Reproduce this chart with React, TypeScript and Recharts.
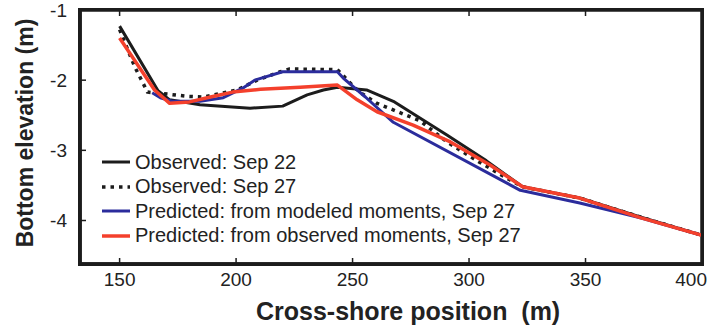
import React from "react";
import { LineChart, Line, XAxis, YAxis, Legend, CartesianGrid } from "recharts";

type Pt = [number, number];

// axis ticks
const xTicks = [150, 200, 250, 300, 350, 400];
const yTicks = [-4, -3, -2, -1];
const xDomain: [number, number] = [133, 400];
const yDomain: [number, number] = [-4.62, -1];

// profiles: [cross-shore position (m), bottom elevation (m)]
const observedSep22: Pt[] = [
  [150, -1.23], [166.5, -2.15], [171.5, -2.28], [184.5, -2.35], [206, -2.4],
  [220, -2.37], [230.5, -2.21], [237.5, -2.14], [243.5, -2.1], [256, -2.14],
  [268, -2.31], [290.5, -2.78], [307.5, -3.15], [323, -3.52], [347.5, -3.68],
  [373.5, -3.95], [400, -4.21],
];

const observedSep27: Pt[] = [
  [150, -1.28], [156.5, -1.81], [162, -2.17], [171, -2.2], [179, -2.23],
  [186, -2.24], [200.5, -2.14], [209, -2.0], [219, -1.88], [223, -1.84],
  [243.5, -1.85], [249, -2.04], [253, -2.17], [260.5, -2.33], [279, -2.58],
  [290.5, -2.88], [304.5, -3.17], [317.5, -3.42], [323, -3.52], [347.5, -3.68],
  [373.5, -3.95], [400, -4.21],
];

const predictedModeled: Pt[] = [
  [164, -2.18], [167.5, -2.25], [172.5, -2.3], [184.5, -2.3], [194.5, -2.25],
  [203, -2.11], [208, -2.0], [220, -1.88], [243.5, -1.88], [246, -1.97],
  [255.5, -2.24], [267.5, -2.6], [322, -3.57], [347.5, -3.75], [373.5, -3.96],
  [400, -4.21],
];

const predictedObserved: Pt[] = [
  [150, -1.4], [165, -2.14], [171.5, -2.33], [180, -2.31], [189, -2.24],
  [198.5, -2.17], [210.5, -2.13], [227.5, -2.1], [243.5, -2.07], [252, -2.28],
  [260.5, -2.45], [276, -2.64], [292, -2.88], [309, -3.21], [323, -3.52],
  [347.5, -3.68], [373.5, -3.96], [400, -4.21],
];

const FONT = '"Liberation Sans", Arial, Helvetica, sans-serif';
const INK = "#1c1c1c";

const SERIES = [
  { key: "obs22", name: "Observed: Sep 22", points: observedSep22, color: INK, width: 3, dash: undefined },
  { key: "obs27", name: "Observed: Sep 27", points: observedSep27, color: INK, width: 3.5, dash: "3.5 5" },
  { key: "predMod", name: "Predicted: from modeled moments, Sep 27", points: predictedModeled, color: "#2b2c9c", width: 3, dash: undefined },
  { key: "predObs", name: "Predicted: from observed moments, Sep 27", points: predictedObserved, color: "#f4402c", width: 3.5, dash: undefined },
];

const toRows = (pts: Pt[]) => pts.map(([x, y]) => ({ x, y }));

// layout of the plot box
const W = 709;
const H = 326;
const PLOT = { left: 80, top: 10, right: 702, bottom: 264 };
const FRAME_W = 3.5;

const frame = { stroke: INK, strokeWidth: FRAME_W, strokeLinecap: "square" as const };

// ticks point into the plot; the top edge gets the same ticks
const BottomTick = (props: any) => {
  const { x, y, payload } = props;
  const last = payload.value === xTicks[xTicks.length - 1];
  const top = y - (PLOT.bottom - PLOT.top);
  return (
    <g>
      <line x1={x} y1={y} x2={x} y2={y - 6} stroke={INK} strokeWidth={1.5} />
      {!last && <line x1={x} y1={top} x2={x} y2={top + 6} stroke={INK} strokeWidth={1.5} />}
      <text
        x={last ? x + 5 : x}
        y={y + 22}
        textAnchor={last ? "end" : "middle"}
        fontSize={19}
        fontFamily={FONT}
        fill="#222"
      >
        {payload.value}
      </text>
    </g>
  );
};

const LeftTick = (props: any) => {
  const { x, y, payload } = props;
  return (
    <g>
      <line x1={x} y1={y} x2={x + 6} y2={y} stroke={INK} strokeWidth={1.5} />
      <text x={x - 13} y={y} dy="0.36em" textAnchor="end" fontSize={19} fontFamily={FONT} fill="#222">
        {payload.value}
      </text>
    </g>
  );
};

const XTitle = (props: any) => {
  const { viewBox } = props;
  return (
    <text
      x={viewBox.x + 176}
      y={320}
      fontSize={25}
      fontWeight="bold"
      fontFamily={FONT}
      fill="#222"
      style={{ whiteSpace: "pre" }}
    >
      {"Cross-shore position  (m)"}
    </text>
  );
};

const YTitle = () => (
  <text
    x={33}
    y={133}
    transform="rotate(-90, 33, 133)"
    textAnchor="middle"
    fontSize={23}
    fontWeight="bold"
    fontFamily={FONT}
    fill="#222"
  >
    Bottom elevation (m)
  </text>
);

const LegendBox = () => (
  <div style={{ fontFamily: FONT, fontSize: 20, color: "#222" }}>
    {SERIES.map((s) => (
      <div key={s.key} style={{ display: "flex", alignItems: "center", height: 24.5, whiteSpace: "nowrap" }}>
        <svg width={30} height={24}>
          <line x1={1} x2={29} y1={12} y2={12} stroke={s.color} strokeWidth={s.width} strokeDasharray={s.dash} />
        </svg>
        <span style={{ marginLeft: 4 }}>{s.name}</span>
      </div>
    ))}
  </div>
);

// grid lines only on the outer edges of the plot, which closes the box
const edgeRows = ({ offset }: any) => [offset.top, offset.top + offset.height];
const edgeCols = ({ offset }: any) => [offset.left, offset.left + offset.width];

export default function App() {
  return (
    <div style={{ position: "absolute", left: 0, top: 0, width: W, height: H, background: "#fff" }}>
      <LineChart
        width={W}
        height={H}
        margin={{ top: PLOT.top, right: W - PLOT.right, left: 0, bottom: 0 }}
      >
        <CartesianGrid
          stroke={INK}
          strokeWidth={FRAME_W}
          horizontalCoordinatesGenerator={edgeRows}
          verticalCoordinatesGenerator={edgeCols}
        />
        <XAxis
          dataKey="x"
          type="number"
          domain={xDomain}
          allowDataOverflow
          ticks={xTicks}
          interval={0}
          height={H - PLOT.bottom}
          tickSize={0}
          tickMargin={0}
          tickLine={false}
          axisLine={frame}
          tick={<BottomTick />}
          label={<XTitle />}
        />
        <YAxis
          type="number"
          domain={yDomain}
          allowDataOverflow
          ticks={yTicks}
          interval={0}
          width={PLOT.left}
          tickSize={0}
          tickMargin={0}
          tickLine={false}
          axisLine={frame}
          tick={<LeftTick />}
          label={<YTitle />}
        />
        {SERIES.map((s) => (
          <Line
            key={s.key}
            data={toRows(s.points)}
            dataKey="y"
            name={s.name}
            type="linear"
            stroke={s.color}
            strokeWidth={s.width}
            strokeDasharray={s.dash}
            strokeLinejoin="round"
            dot={false}
            activeDot={false}
            isAnimationActive={false}
          />
        ))}
        <Legend
          layout="vertical"
          align="center"
          verticalAlign="middle"
          content={<LegendBox />}
          wrapperStyle={{ left: 101, top: 150, width: "auto", height: "auto" }}
        />
      </LineChart>
      {/* box around the plot area */}
      <div
        style={{
          position: "absolute",
          left: PLOT.left - FRAME_W / 2,
          top: PLOT.top - FRAME_W / 2,
          width: PLOT.right - PLOT.left + FRAME_W,
          height: PLOT.bottom - PLOT.top + FRAME_W,
          border: `${FRAME_W}px solid ${INK}`,
          boxSizing: "border-box",
          pointerEvents: "none",
          zIndex: 5,
        }}
      />
    </div>
  );
}
